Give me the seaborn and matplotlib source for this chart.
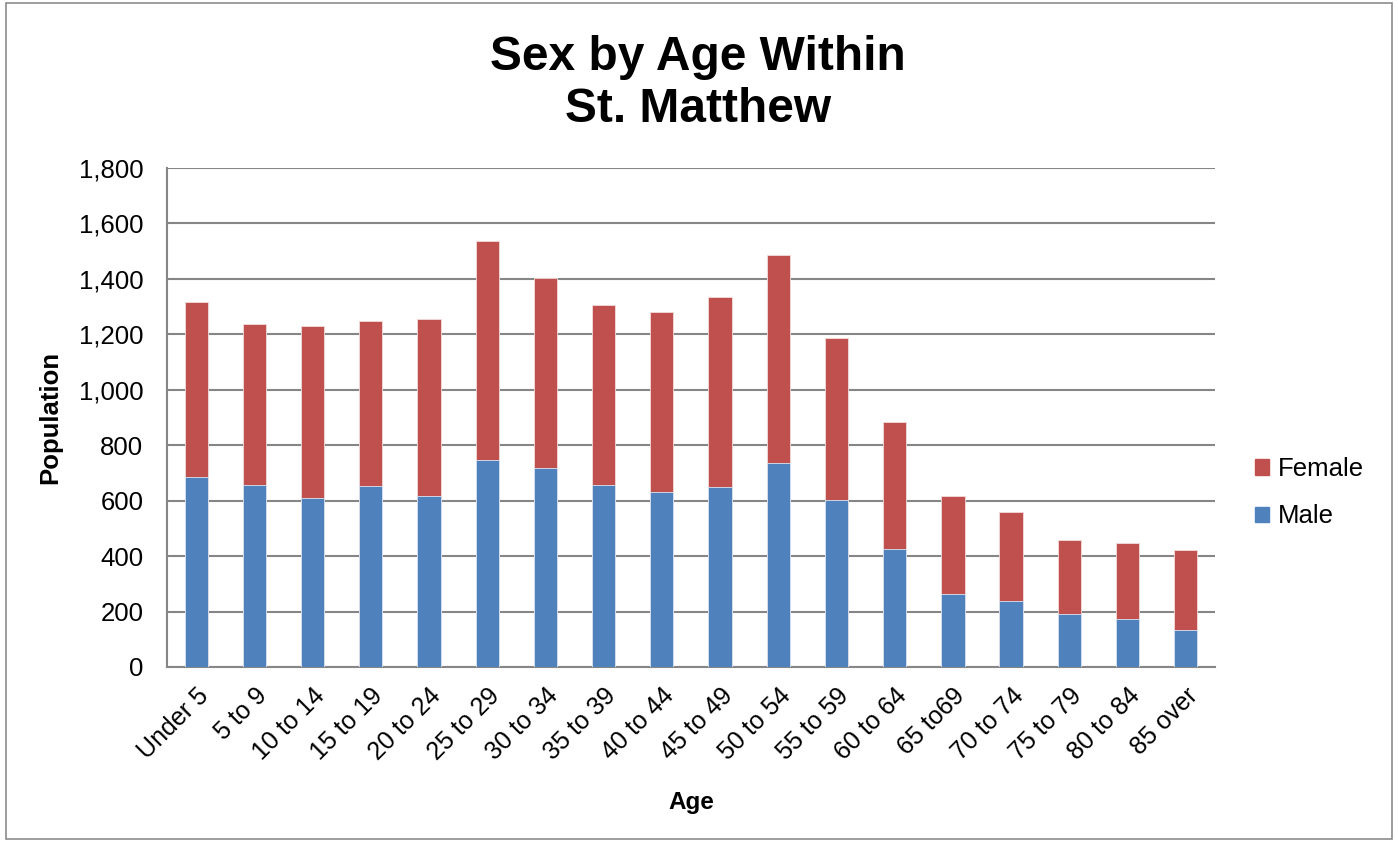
import pandas as pd
import matplotlib.pyplot as plt
import seaborn as sns
from matplotlib.patches import Rectangle, Patch

# Values
age_groups = ['Under 5', '5 to 9', '10 to 14', '15 to 19', '20 to 24', '25 to 29',
              '30 to 34', '35 to 39', '40 to 44', '45 to 49', '50 to 54', '55 to 59',
              '60 to 64', '65 to69', '70 to 74', '75 to 79', '80 to 84', '85 over']
male = [687, 658, 608, 653, 617, 745, 718, 657, 631, 649, 735, 603,
        424, 262, 239, 190, 173, 135]
female = [631, 579, 621, 594, 638, 792, 686, 650, 651, 684, 750, 584,
          461, 355, 321, 267, 275, 286]

df = pd.DataFrame({'Age': age_groups, 'Male': male, 'Female': female})
df['Total'] = df['Male'] + df['Female']

sns.set_style('white')
plt.rcParams['font.family'] = ['Liberation Sans', 'DejaVu Sans']
plt.rcParams['text.color'] = 'black'
plt.rcParams['xtick.color'] = 'black'
plt.rcParams['ytick.color'] = 'black'
plt.rcParams['axes.labelcolor'] = 'black'

male_color = '#4F81BD'
female_color = '#C0504D'
grid_color = '#868686'

fig = plt.figure(figsize=(13.98, 8.41), dpi=100)
ax = fig.add_axes([0.1195, 0.2069, 0.7495, 0.5933])

# stacked bars: total (female on top) then male
sns.barplot(x='Age', y='Total', data=df, color=female_color, width=0.4,
            saturation=1, edgecolor='#f2dcdb', linewidth=0.6, ax=ax, zorder=3)
sns.barplot(x='Age', y='Male', data=df, color=male_color, width=0.4,
            saturation=1, edgecolor='#dbe5f1', linewidth=0.6, ax=ax, zorder=4)

ax.set_xlim(-0.5, len(age_groups) - 0.5)
ax.set_ylim(0, 1800)
ax.set_yticks(range(0, 1801, 200))
ax.set_yticklabels([f'{v:,}' for v in range(0, 1801, 200)], fontsize=18.5)
ax.yaxis.grid(True, color=grid_color, linewidth=1.5, zorder=0)
ax.set_axisbelow(True)

# category ticks between bars
ax.set_xticks(range(len(age_groups)))
ax.set_xticklabels(age_groups, rotation=45, ha='right', rotation_mode='anchor', fontsize=18)
ax.set_xticks([i - 0.5 for i in range(len(age_groups) + 1)], minor=True)
ax.tick_params(axis='x', which='major', length=0, pad=12)
ax.tick_params(axis='x', which='minor', length=5, width=1.5, color=grid_color, direction='out')
ax.tick_params(axis='y', length=5, width=1.5, color=grid_color, direction='out', pad=12)

for side in ['top', 'right']:
    ax.spines[side].set_visible(False)
for side in ['left', 'bottom']:
    ax.spines[side].set_color(grid_color)
    ax.spines[side].set_linewidth(1.5)

ax.set_xlabel('Age', fontsize=17.5, fontweight='bold', labelpad=19)
ax.set_ylabel('Population', fontsize=18.5, fontweight='bold', labelpad=12)

fig.text(0.4993, 0.901, 'Sex by Age Within\nSt. Matthew', ha='center', va='center',
         fontsize=34.5, fontweight='bold', linespacing=1.2)

handles = [Patch(color=female_color, label='Female'), Patch(color=male_color, label='Male')]
fig.legend(handles=handles, loc='center left', bbox_to_anchor=(0.881, 0.414), frameon=False,
           fontsize=18.5, handlelength=0.55, handleheight=0.55, handletextpad=0.35, labelspacing=0.9)

# outer chart border
fig.patches.append(Rectangle((0.004, 0.002), 0.992, 0.994, transform=fig.transFigure,
                             fill=False, edgecolor='#8c8c8c', linewidth=1.2))

fig.savefig('out.png', dpi=100)
